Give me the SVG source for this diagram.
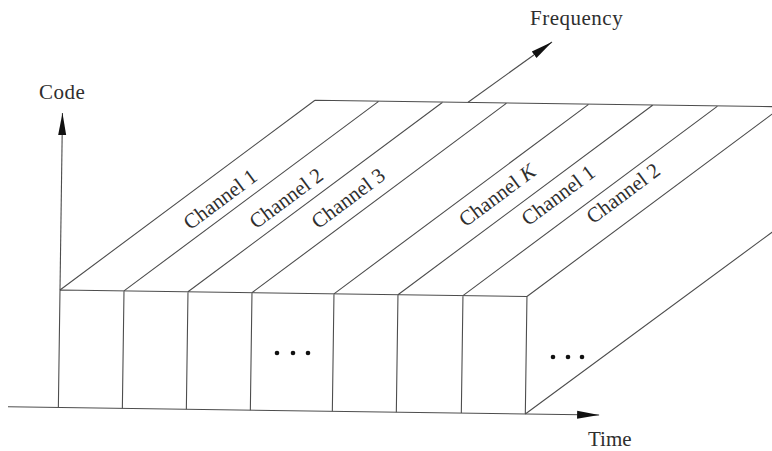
<svg xmlns="http://www.w3.org/2000/svg" width="772" height="451" viewBox="0 0 772 451">
  <style>
    .ln { stroke: #4d4d4d; stroke-width: 1.1; fill: none; }
    .lbl { font-family: "Liberation Serif", "Times New Roman", serif; font-size: 21px; fill: #2e2e2e; }
    .ch { font-family: "Liberation Serif", "Times New Roman", serif; font-size: 21px; fill: #2e2e2e; text-anchor: middle; }
    .dot { fill: #111; }
  </style>
  <defs>
    <marker id="arr" markerUnits="userSpaceOnUse" markerWidth="24" markerHeight="12" refX="22" refY="5" orient="auto">
      <path d="M0,1 L22,5 L0,9 Z" fill="#111"/>
    </marker>
  </defs>
  <rect width="772" height="451" fill="#fff"/>
  <g transform="rotate(0.8 60 290)">
    <g id="front-cells">
      <path class="ln" d="M60,290 H527 M60,290 V407.5 M124,290 V407.5 M188,290 V407.5 M252,290 V407.5 M334,290 V407.5 M398,290 V407.5 M463,290 V407.5 M527,290 V407.5"/>
    </g>
    <g id="channel-bands">
      <path class="ln" d="M312.3,96.7 H800 M60,290 L312.3,96.7 M124,290 L376.3,96.7 M188,290 L440.3,96.7 M252,290 L504.3,96.7 M334,290 L586.3,96.7 M398,290 L650.3,96.7 M463,290 L715.3,96.7 M527,290 L779.3,96.7 M527,407.5 L790,208"/>
    </g>
    <g id="connectors">
      <path class="ln" d="M60,290 V113" marker-end="url(#arr)"/>
      <path class="ln" d="M9.6,407.5 H600.8" marker-end="url(#arr)"/>
      <path class="ln" d="M465.4,96.5 L548.5,35.1" marker-end="url(#arr)"/>
    </g>
  </g>
  <g id="axis-labels">
    <text class="lbl" x="39" y="99" letter-spacing="0.5">Code</text>
    <text class="lbl" x="530" y="25" letter-spacing="0.5">Frequency</text>
    <text class="lbl" x="588" y="446">Time</text>
  </g>
  <g id="channel-labels">
    <text class="ch" transform="translate(220,199) rotate(-36.7)" dy="0.35em">Channel 1</text>
    <text class="ch" transform="translate(286,198) rotate(-36.7)" dy="0.35em">Channel 2</text>
    <text class="ch" transform="translate(348,198) rotate(-36.7)" dy="0.35em">Channel 3</text>
    <text class="ch" transform="translate(497,195) rotate(-36.7)" dy="0.35em">Channel <tspan font-style="italic">K</tspan></text>
    <text class="ch" transform="translate(558,195) rotate(-36.7)" dy="0.35em">Channel 1</text>
    <text class="ch" transform="translate(623,193) rotate(-36.7)" dy="0.35em">Channel 2</text>
  </g>
  <g id="ellipsis-1">
    <circle class="dot" cx="277" cy="353" r="2.3"/>
    <circle class="dot" cx="293" cy="353" r="2.3"/>
    <circle class="dot" cx="308" cy="353" r="2.3"/>
  </g>
  <g id="ellipsis-2">
    <circle class="dot" cx="553" cy="357" r="2.3"/>
    <circle class="dot" cx="568" cy="357" r="2.3"/>
    <circle class="dot" cx="582" cy="357" r="2.3"/>
  </g>
</svg>
